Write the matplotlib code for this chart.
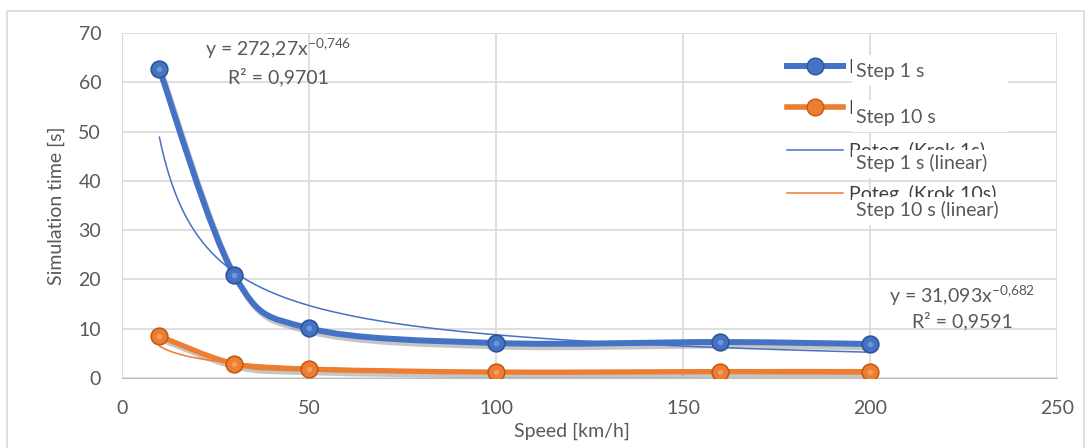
import numpy as np
import matplotlib.pyplot as plt
import matplotlib.patheffects as pe
from matplotlib.path import Path
from matplotlib.patches import PathPatch, Rectangle
from matplotlib.lines import Line2D

plt.rcParams['font.family'] = ['Lato', 'DejaVu Sans']
plt.rcParams['mathtext.fontset'] = 'custom'
plt.rcParams['mathtext.rm'] = 'Lato'
plt.rcParams['mathtext.it'] = 'Lato:italic'

# data
speed = [10, 30, 50, 100, 160, 200]
time_step1 = [62.6, 20.9, 10.1, 7.1, 7.3, 6.9]
time_step10 = [8.5, 2.9, 1.8, 1.2, 1.3, 1.3]

# power trendlines y = a * x^b, coefficients as printed on the chart
trend_step1 = (272.27, -0.746)
trend_step10 = (31.093, -0.682)
eq_step1 = [r'y = 272,27x$^{\mathregular{-0{,}746}}$', 'R² = 0,9701']
eq_step10 = [r'y = 31,093x$^{\mathregular{-0{,}682}}$', 'R² = 0,9591']

legend_pl = ['Krok 1s', 'Krok 10s', 'Potęg. (Krok 1s)', 'Potęg. (Krok 10s)']
legend_en = ['Step 1 s', 'Step 10 s', 'Step 1 s (linear)', 'Step 10 s (linear)']

blue = '#4472C4'
orange = '#ED7D31'
grey_txt = '#595959'
grid_col = '#d9d9d9'

W, H = 1090, 448


def fx(px):
    return px / W


def fy(py):
    return 1 - py / H


def smooth_path(xs, ys):
    """Excel-like smoothed line: cubic bezier through every point."""
    pts = np.column_stack([xs, ys]).astype(float)
    n = len(pts)
    verts = [pts[0]]
    codes = [Path.MOVETO]
    for i in range(n - 1):
        p0 = pts[i - 1] if i > 0 else pts[i]
        p3 = pts[i + 2] if i + 2 < n else pts[i + 1]
        c1 = pts[i] + (pts[i + 1] - p0) / 6
        c2 = pts[i + 1] - (p3 - pts[i]) / 6
        verts += [c1, c2, pts[i + 1]]
        codes += [Path.CURVE4] * 3
    return Path(verts, codes)


fig = plt.figure(figsize=(10.9, 4.48), dpi=100)
ax = fig.add_axes([fx(122), fy(378), fx(1057) - fx(122), fy(33) - fy(378)])

shadow = [pe.Stroke(offset=(1.5, -2.5), foreground='#7f7f7f', alpha=0.45), pe.Normal()]

series = [(time_step1, blue, '#2F5597', 4.3), (time_step10, orange, '#C55A11', 3.8)]
for vals, col, edge, lw in series:
    ax.add_patch(PathPatch(smooth_path(speed, vals), fill=False, edgecolor=col,
                           lw=lw, capstyle='round', joinstyle='round',
                           path_effects=shadow, zorder=2))
    ax.plot(speed, vals, linestyle='none', marker='o', markersize=12,
            markerfacecolor=col, markeredgecolor=edge, markeredgewidth=1.2, zorder=4)
    ax.plot(speed, vals, linestyle='none', marker='o', markersize=4,
            markerfacecolor='white', markeredgewidth=0, alpha=0.25, zorder=5)

x_fit = np.linspace(min(speed), max(speed), 300)
for (a, b), col in [(trend_step1, blue), (trend_step10, orange)]:
    ax.plot(x_fit, a * x_fit ** b, color=col, lw=1.1, zorder=3)

ax.set_xlim(0, 250)
ax.set_ylim(0, 70)
ax.set_xticks(range(0, 251, 50))
ax.set_yticks(range(0, 71, 10))
ax.grid(True, color=grid_col, lw=1.2)
ax.set_axisbelow(True)
for s in ['top', 'right']:
    ax.spines[s].set_visible(False)
ax.spines['left'].set_color(grid_col)
ax.spines['bottom'].set_color('#bfbfbf')
ax.tick_params(axis='both', length=0, labelsize=14, labelcolor=grey_txt)
ax.tick_params(axis='y', pad=15)
ax.tick_params(axis='x', pad=16)

ax.set_ylabel('Simulation time [s]', fontsize=14, color=grey_txt)
ax.yaxis.set_label_coords((65 - 122) / 935, 0.5)
ax.set_xlabel('Speed [km/h]', fontsize=14, color=grey_txt)
ax.xaxis.set_label_coords((572 - 122) / 935, (378 - 423) / 345)

# trendline equations
for lines, cx, ys in [(eq_step1, 278, (49, 77)), (eq_step10, 962, (296, 321))]:
    for txt, yy in zip(lines, ys):
        fig.text(fx(cx), fy(yy), txt, ha='center', va='center', fontsize=14, color=grey_txt)

# legend (original labels) ...
handles = [
    Line2D([], [], color=blue, lw=4.3, marker='o', markersize=12,
           markerfacecolor=blue, markeredgecolor='#2F5597'),
    Line2D([], [], color=orange, lw=4, marker='o', markersize=12,
           markerfacecolor=orange, markeredgecolor='#C55A11'),
    Line2D([], [], color=blue, lw=1.1),
    Line2D([], [], color=orange, lw=1.1),
]
ax.legend(handles, legend_pl, loc='upper left', bbox_to_anchor=(fx(787), fy(58.5)),
          bbox_transform=fig.transFigure, frameon=False, fontsize=14,
          labelcolor='#404040', borderpad=0, borderaxespad=0, handlelength=2.9,
          handletextpad=0.3, labelspacing=1.27)

# ... pasted over with the translated ones
box_tops = [55, 100, 150, 197]
for txt, cy, top in zip(legend_en, [71, 117, 163, 210], box_tops):
    fig.patches.append(Rectangle((fx(852), fy(cy + 15)), fx(1008) - fx(852),
                                 fy(top) - fy(cy + 15), transform=fig.transFigure,
                                 facecolor='white', edgecolor='none', zorder=6))
    fig.text(fx(856), fy(cy), txt, ha='left', va='center', fontsize=14,
             color=grey_txt, zorder=7)

# outer chart border
fig.patches.append(Rectangle((fx(7), fy(470)), fx(1084) - fx(7), fy(11) - fy(470),
                             transform=fig.transFigure, fill=False,
                             edgecolor=grid_col, lw=1.2, zorder=0))

fig.savefig('out.png', dpi=100)
